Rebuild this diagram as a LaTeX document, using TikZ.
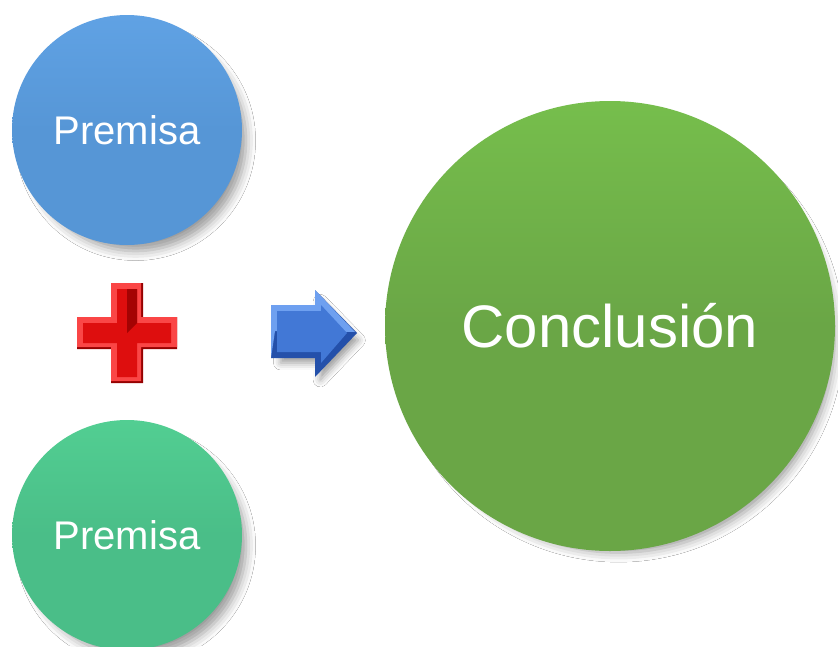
\documentclass[tikz,border=0pt]{standalone}
\usepackage{fontspec}
\setmainfont{Liberation Sans}
\usetikzlibrary{shadows.blur}
\definecolor{premisaazul}{RGB}{86,150,214}
\definecolor{premisaazulclaro}{RGB}{96,162,228}
\definecolor{premisaverde}{RGB}{74,190,136}
\definecolor{premisaverdeclaro}{RGB}{82,206,146}
\definecolor{conclverde}{RGB}{106,166,70}
\definecolor{conclverdeclaro}{RGB}{118,190,76}
\definecolor{cruzrojo}{RGB}{222,14,14}
\definecolor{cruzclaro}{RGB}{250,70,70}
\definecolor{cruzoscuro}{RGB}{150,0,0}
\definecolor{flechaazul}{RGB}{66,120,214}
\definecolor{flechaclaro}{RGB}{110,160,240}
\definecolor{flechaoscuro}{RGB}{36,80,170}
\begin{document}
\begin{tikzpicture}[x=1pt,y=-1pt,
  sombra/.style={blur shadow={shadow xshift=9pt, shadow yshift=-11pt, shadow scale=0.96,
    shadow blur radius=10pt, shadow opacity=40}},
  bola/.style={circle, sombra, inner sep=0pt, text=white},
  premisa/.style={bola, minimum size=230pt, font=\fontsize{40}{48}\selectfont},
  conclusion/.style={bola, minimum size=450pt, font=\fontsize{60}{72}\selectfont}]
\useasboundingbox[fill=white] (0,0) rectangle (838,646);
% premisas y conclusion
\node [premisa, top color=premisaazulclaro, bottom color=premisaazul, middle color=premisaazul] (premisaA) at (127,130) {Premisa};
\node [premisa, top color=premisaverdeclaro, bottom color=premisaverde, middle color=premisaverde] (premisaB) at (127,535) {Premisa};
\node [conclusion, top color=conclverdeclaro, bottom color=conclverde, middle color=conclverde] (concl) at (610,326) {Conclusión};
% cruz
\coordinate (cruz) at (127,333);
\fill [cruzoscuro, shift={(cruz)}] (-16,-50) -- (16,-50) -- (16,-16) -- (50,-16) -- (50,16) -- (16,16)
  -- (16,50) -- (-16,50) -- (-16,16) -- (-50,16) -- (-50,-16) -- (-16,-16) -- cycle;
\fill [cruzclaro, shift={(cruz)}] (-16,-50) -- (14,-50) -- (14,-16) -- (50,-16) -- (50,14) -- (14,14)
  -- (14,48) -- (-16,48) -- (-16,14) -- (-50,14) -- (-50,-16) -- (-16,-16) -- cycle;
\fill [cruzrojo, shift={(cruz)}] (-10,-44) -- (10,-44) -- (10,-10) -- (44,-10) -- (44,10) -- (10,10)
  -- (10,44) -- (-10,44) -- (-10,10) -- (-44,10) -- (-44,-10) -- (-10,-10) -- cycle;
\fill [cruzoscuro!80!cruzrojo, shift={(cruz)}] (0,-44) -- (10,-44) -- (10,-10) -- (0,0) -- cycle;
% flecha
\coordinate (flecha) at (271,333);
\fill [flechaoscuro, blur shadow={shadow xshift=6pt, shadow yshift=-8pt, shadow scale=0.9,
    shadow blur radius=8pt, shadow opacity=40}, shift={(flecha)}] (0,-28) -- (44,-28) -- (44,-43) -- (86,0) -- (44,44)
  -- (44,25) -- (0,25) -- cycle;
\fill [flechaclaro, shift={(flecha)}] (0,-28) -- (44,-28) -- (44,-43) -- (84,-1) -- (42,-2)
  -- (4,-2) -- (0,25) -- cycle;
\fill [flechaazul, shift={(flecha)}] (6,-22) -- (50,-22) -- (50,-28) -- (76,0) -- (50,30)
  -- (50,19) -- (6,19) -- cycle;
\end{tikzpicture}
\end{document}
